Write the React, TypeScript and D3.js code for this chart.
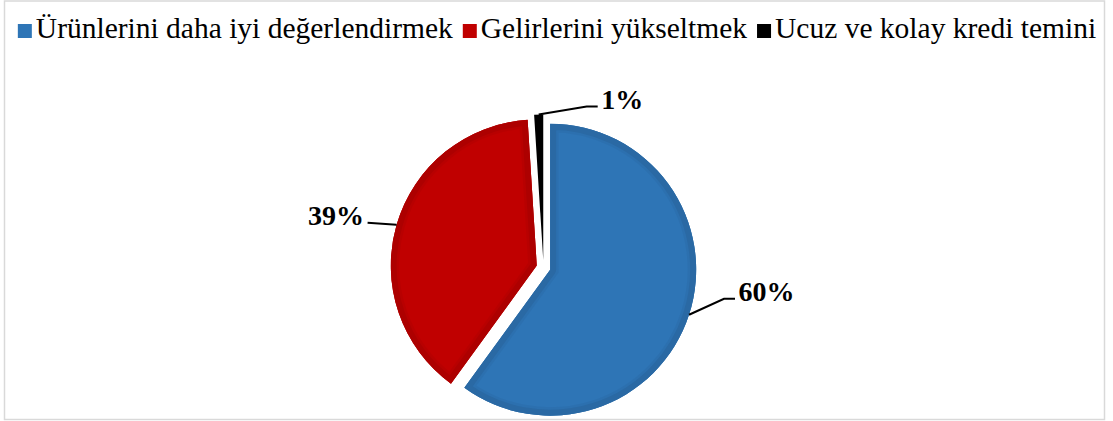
import { useEffect, useRef } from 'react'
import * as d3 from 'd3'

const W = 1113, H = 421

const categories = ['Ürünlerini daha iyi değerlendirmek', 'Gelirlerini yükseltmek', 'Ucuz ve kolay kredi temini']
const values = [60, 39, 1]
const labels = ['60%', '39%', '1%']
const fills = ['#2e75b6', '#c00000', '#000000']
const bands = ['#2a69a4', '#ad0000', '#000000']

// leader geometry relative to the slice's outer midpoint: [elbow dx, elbow dy, tail length, side]
const leaders: [number, number, number, number][] = [
  [35, -16, 11, 1],
  [-29, -2, 0, -1],
  [48, -8, 11, 1],
]

const FONT = "'Liberation Serif', 'Times New Roman', serif"

export default function App() {
  const svgRef = useRef<SVGSVGElement>(null)

  useEffect(() => {
    const svg = d3.select(svgRef.current!)
    svg.selectAll('*').remove()

    // outer frame
    svg.append('rect')
      .attr('x', 4.5).attr('y', 1).attr('width', 1100).attr('height', 418.5)
      .attr('fill', '#fff').attr('stroke', '#d9d9d9').attr('stroke-width', 1.5)

    const cx = 543.5, cy = 267.5, r = 146, explode = 7

    const pie = d3.pie<number>().sort(null).value(v => v)
    const arcs = pie(values)
    const arc = d3.arc<d3.PieArcDatum<number>>().innerRadius(0).outerRadius(r)

    const defs = svg.append('defs')
    const g = svg.append('g').attr('transform', `translate(${cx},${cy})`)

    arcs.forEach((a, i) => {
      const mid = (a.startAngle + a.endAngle) / 2
      const ox = Math.sin(mid) * explode, oy = -Math.cos(mid) * explode
      const sg = g.append('g').attr('transform', `translate(${ox},${oy})`)
      const id = `clip-${i}`
      defs.append('clipPath').attr('id', id)
        .append('path').attr('d', arc(a)!)
      sg.append('path').attr('d', arc(a)!).attr('fill', fills[i])
      if (i < 2) {
        // darker inner rim, like the Excel bevel
        sg.append('path')
          .attr('d', arc(a)!)
          .attr('clip-path', `url(#${id})`)
          .attr('fill', 'none').attr('stroke', bands[i]).attr('stroke-width', 17)
          .attr('stroke-opacity', 0.4)
        sg.append('path')
          .attr('d', arc(a)!)
          .attr('clip-path', `url(#${id})`)
          .attr('fill', 'none').attr('stroke', bands[i]).attr('stroke-width', 12)
          .attr('stroke-linejoin', 'round')
      }

      // leader line + label
      const px = cx + ox + Math.sin(mid) * r
      const py = cy + oy - Math.cos(mid) * r
      const [ex, ey, tail, side] = leaders[i]
      const elbow: [number, number] = [px + ex, py + ey]
      const end: [number, number] = [elbow[0] + side * tail, elbow[1]]
      svg.append('path')
        .attr('d', d3.line()([[px, py], elbow, end]))
        .attr('fill', 'none').attr('stroke', '#000').attr('stroke-width', 2)
      svg.append('text')
        .attr('x', end[0] + side * 3.5).attr('y', end[1] + 2)
        .attr('text-anchor', side > 0 ? 'start' : 'end')
        .attr('font-family', FONT).attr('font-weight', 'bold').attr('font-size', 28)
        .attr('fill', '#000').text(labels[i])
    })

    // legend, centred across the top
    const lg = svg.append('g')
    const sq = 14, gap = 4, itemGap = 10
    let x = 0
    categories.forEach((c, i) => {
      lg.append('rect').attr('x', x).attr('y', 24).attr('width', sq).attr('height', sq).attr('fill', fills[i])
      const t = lg.append('text').attr('x', x + sq + gap).attr('y', 38)
        .attr('font-family', FONT).attr('font-size', 29.5).attr('fill', '#000').text(c)
      x += sq + gap + (t.node() as SVGTextElement).getComputedTextLength() + itemGap
    })
    const total = x - itemGap
    lg.attr('transform', `translate(${557 - total / 2},0)`)
  }, [])

  return (
    <svg ref={svgRef} width={W} height={H} viewBox={`0 0 ${W} ${H}`}
      style={{ position: 'absolute', left: 0, top: 0, background: '#fff' }} />
  )
}
